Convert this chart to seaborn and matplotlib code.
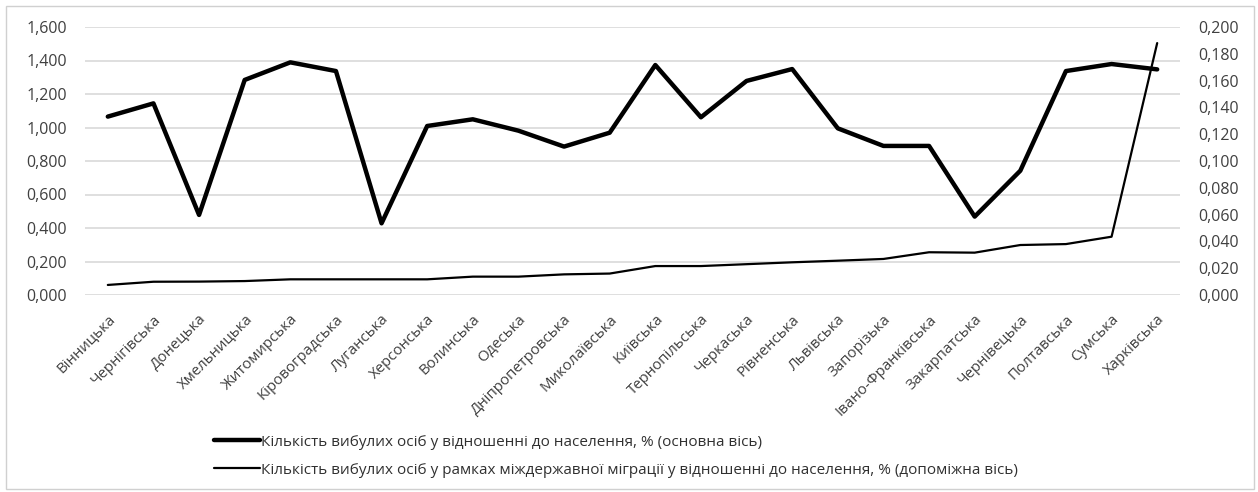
import matplotlib
matplotlib.use("Agg")
import matplotlib.pyplot as plt
import seaborn as sns
import pandas as pd
import numpy as np
from matplotlib.patches import Rectangle

regions = ["Вінницька", "Чернігівська", "Донецька", "Хмельницька", "Житомирська",
           "Кіровоградська", "Луганська", "Херсонська", "Волинська", "Одеська",
           "Дніпропетровська", "Миколаївська", "Київська", "Тернопільська", "Черкаська",
           "Рівненська", "Львівська", "Запорізька", "Івано-Франківська", "Закарпатська",
           "Чернівецька", "Полтавська", "Сумська", "Харківська"]

departed_share = [1.065, 1.144, 0.478, 1.284, 1.389, 1.337, 0.428, 1.009, 1.049, 0.981,
                  0.886, 0.969, 1.373, 1.061, 1.278, 1.349, 0.995, 0.890, 0.890, 0.468,
                  0.742, 1.337, 1.379, 1.347]

migration_share = [0.0075, 0.0099, 0.0100, 0.0104, 0.0117, 0.0117, 0.0117, 0.0117, 0.0137, 0.0137,
                   0.0154, 0.0160, 0.0216, 0.0216, 0.0230, 0.0244, 0.0256, 0.0269, 0.0319, 0.0316,
                   0.0373, 0.0380, 0.0435, 0.1880]

label_main = "Кількість вибулих осіб у відношенні до населення, % (основна вісь)"
label_sec = "Кількість вибулих осіб у рамках міждержавної міграції у відношенні до населення, % (допоміжна вісь)"

left_ticks = [0.0, 0.2, 0.4, 0.6, 0.8, 1.0, 1.2, 1.4, 1.6]
right_ticks = [0.0, 0.02, 0.04, 0.06, 0.08, 0.10, 0.12, 0.14, 0.16, 0.18, 0.20]

sns.set_style("white")
plt.rcParams['font.family'] = ['Open Sans', 'DejaVu Sans']

df = pd.DataFrame({"idx": np.arange(len(regions)), "main": departed_share, "sec": migration_share})

fig = plt.figure(figsize=(12.58, 4.92), dpi=100)
ax = fig.add_axes([85/1258, 1 - 295/492, (1180 - 85)/1258, (295 - 27)/492])
ax2 = ax.twinx()

sns.lineplot(data=df, x="idx", y="main", ax=ax, color="black", linewidth=3.2, label=label_main, legend=False)
sns.lineplot(data=df, x="idx", y="sec", ax=ax2, color="black", linewidth=1.6, label=label_sec, legend=False)

ax.set_xlim(-0.5, len(regions) - 0.5)
ax.set_ylim(0, 1.6)
ax2.set_ylim(0, 0.2)
ax.set_yticks(left_ticks)
ax.set_yticklabels([f"{v:.3f}".replace(".", ",") for v in left_ticks])
ax2.set_yticks(right_ticks)
ax2.set_yticklabels([f"{v:.3f}".replace(".", ",") for v in right_ticks])
ax.set_xticks(range(len(regions)))
ax.set_xticklabels(regions, rotation=45, ha="right", rotation_mode="anchor")

ax.grid(axis="y", color="#d9d9d9", linewidth=1.2)
ax.grid(axis="x", visible=False)
ax.set_axisbelow(True)
for a in (ax, ax2):
    for s in a.spines.values():
        s.set_visible(False)
    a.set_xlabel("")
    a.set_ylabel("")
ax.tick_params(axis="y", length=0, pad=13, labelsize=11.5, labelcolor="#404040")
ax2.tick_params(axis="y", length=0, pad=13, labelsize=11.5, labelcolor="#404040")
ax.tick_params(axis="x", length=0, pad=12, labelsize=10.8, labelcolor="#404040")

h1, l1 = ax.get_legend_handles_labels()
h2, l2 = ax2.get_legend_handles_labels()
fig.legend(h1 + h2, l1 + l2, loc="upper left", bbox_to_anchor=(200/1258, 1 - 421/492),
           frameon=False, fontsize=11, handlelength=3.0, handletextpad=0.1,
           labelspacing=0.85, labelcolor="#303030")

fig.patches.append(Rectangle((6/1258, 3/492), 1248/1258, 483/492, transform=fig.transFigure,
                             fill=False, edgecolor="#d0d0d0", linewidth=1))

fig.savefig("out.png", dpi=100)
